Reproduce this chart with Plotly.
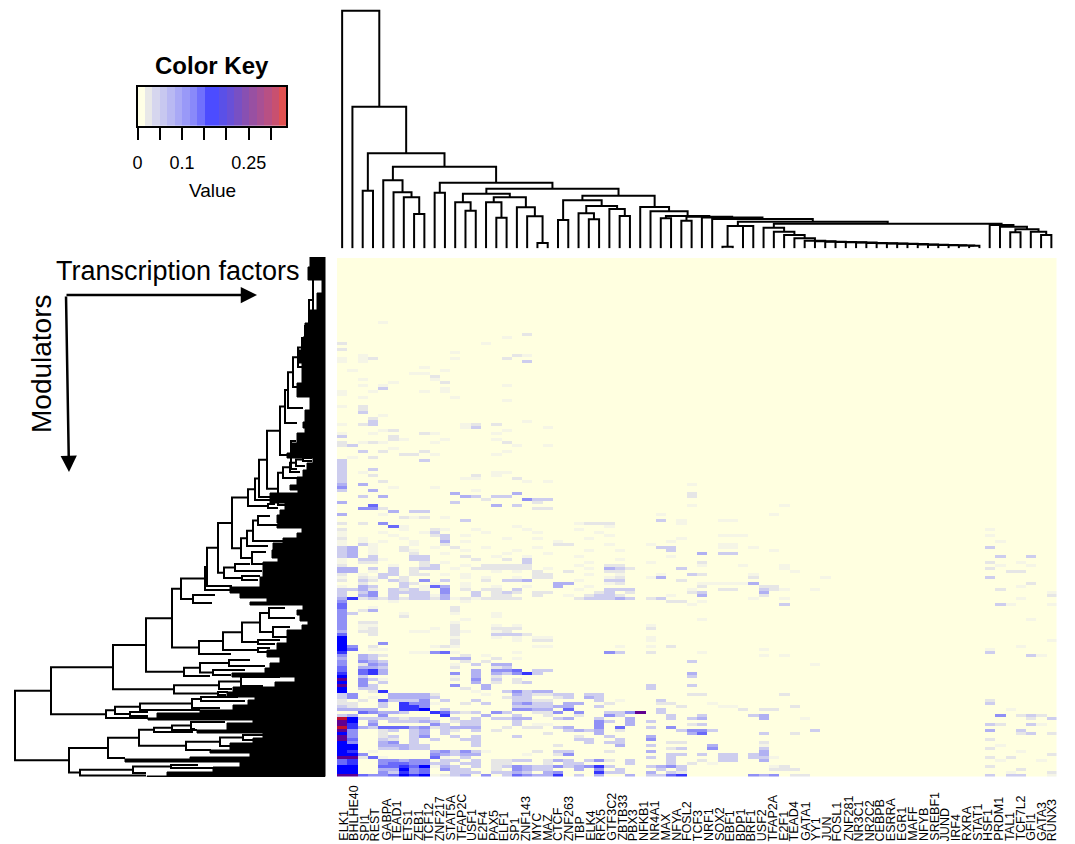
import plotly.graph_objects as go

# ---------- data ----------
factors = ["ELK1","BHLHE40","SPI1","REST","GABPA","TEAD1","ETS1","ZEB1","TCF12","ZNF217","STAT5A","TFAP2C",
           "USF1","E2F4","PAX5","ELF1","SP1","ZNF143","MYC","MAZ","CTCF","ZNF263","TBP","ELK4","RFX5","GTF3C2",
           "ZBTB33","PBX3","NFKB1","NR4A1","MAX","NFYA","FOSL2","TCF3","NRF1","SOX2","EBF1","BDP1","BRF1","USF2",
           "TFAP2A","E2F1","TEAD4","GATA1","YY1","JUN","FOSL1","ZNF281","NR3C1","NR2C2","CEBPB","ESRRA","EGR1",
           "MAFF","NFYB","SREBF1","JUND","IRF4","RXRA","STAT1","HSF1","PRDM1","TAL1","TCF7L2","GFI1","GATA3","RUNX3"]

n_rows = 173
n_cols = 70
level_values = {".":0,"1":.008,"2":.02,"3":.045,"4":.07,"5":.09,"6":.115,"7":.14,"8":.167,"9":.235,"a":.30}

# modulators in the densely filled lower part, rows 90.., first 33 factors; spaces only group the columns
dense_first_row = 90
dense_left = [
"2... ..1.. 21 ..1 ... .1.. .. 1.. ... . ....",
"1... 1...1 3. ... 1.. ..1. .. ..1 ... . ....",
"1... .1... 23 .1. ... .... .. ... 1.. . ....",
"2.1. ..1.. .3 ... ..1 ..1. .. .1. ... . ...1",
"1.1. 1..1. .4 .1. ... .... 1. ... ... . ....",
"1.31 ...1. .2 ... ... .... 22 ... 1.. . 1...",
"34.1 ..2.. 1. 2.. 1.. ..1. .. ... ... . .33.",
"34.1 ..21. .. .1. ... 1... .. .1. .1. . ....",
"34.1 ...2. .1 ... ..1 ...1 .. ... ... . ....",
"34.3 ...33 .. .2. .1. .1.. .. 1.. ... . ..1.",
"1.33 1..33 .. ..2 ..2 .3.. .. ... .1. . ....",
"1.22 ....2 .1 ... ... .3.. .. .1. ... . 1...",
"2... .1..2 3. .1. 222 22.. .. 1.. 22. . ....",
"44.3 .3.23 3. 1.2 222 22.1 .. .1. 432 . ....",
"44.1 .3.2. .. ... .1. 1.2. .2 ... 22. . ....",
"2.1. 33.22 .1 .1. ... ..22 .. .1. .1. . .1..",
"1.21 3.2.. .. .1. 1.. 1.22 .. ... 12. . 1...",
"2.32 .32.5 .3 ... 2.3 34.. .. 1.. 33. . ....",
"..2. ..32. 1. .1. ... .... 44 ... 12. . ....",
"1.43 ..3.1 64 .1. .1. .1.. 4. .1. ... . ....",
"3342 .3231 .5 .2. 22. 3... .. 1.. 333 . ....",
"3.35 .3333 .5 ..3 .23 2.22 .. ..2 3.2 . ....",
"3.45 .3.33 14 ..3 .22 ..2. .1 .23 32. . ..1.",
"4723 23233 24 121 222 2... .. 233 343 . 2...",
"5... .1... .. .1. ... .... .. ... ... . ....",
"6... ..... .. ... ... .... .. ... ... . ....",
"6..1 ..... .. 2.. ... .... .. ... ... . ....",
"5.24 ..... .. 2.. ... .... .. ... ... . ....",
"53.. ..1.. .. 1.. .1. .... .. ... ... . ....",
"5... ..2.. .. ... .1. .... .. ... ... . ....",
"5... ..... .. .1. ... .... .. ... ... . ....",
"5.22 ..... .. 1.. ... .... .. ... ... . ....",
"5.11 ..... .. 2.. .1. 1... .. ... ... . 1...",
"5.12 ..... 1. 2.. .22 2... .. ... ... . 2...",
"4.22 ...11 .. 21. .12 .... .. ... ... . ....",
"6..2 ..... .. 2.. .33 32.. .. ... ... . ....",
"8... ..... .. 1.. .1. 1.11 .. ... ... . 1...",
"8... ..... .. 2.. ... 1.22 .. ... ... . 1...",
"8... 5.... .. 2.. ... .... .. ... ... . ....",
"85.2 ..... 12 1.. ... ..11 .. ... .1. . 1.2.",
"86.1 1.... .. ... ... .... .. ... ... . ....",
"7... ...11 56 1.. ... 1... .. ... 53. . 2...",
"5.43 2.... .. .2. 1.. .... .. ... ... . ....",
"4.43 ..... .. 44. .2. 1... .. ... ... . ....",
"5.54 3.... .. .2. 2.. .... .. ... ... . ....",
"5.25 4.... .. 1.3 .44 .... .. ... ... . ....",
"6.44 3.... .. 2.. .23 .... .. ... ... . ....",
"6.67 4.... .. ..4 .55 6.33 .. ... ... . ....",
"7.67 4.... .. 5.4 .43 573. .. ... ... . ....",
"8.3. ..... .. 1.4 .2. .... .. ... ... . ....",
"9.53 1.... .. 2.5 .3. 2.. . .. ... ... . ....",
"8.5. 3.... .. ..4 .2. 23.. .. ... ... . ....",
"9.53 ..... .. 5.. 4.. .... .. ... ... . 3...",
"8.33 ..... .. .2. 4.. .... .. ... ... . 3...",
"8..2 7.... .. ..1 ..3 5344 .. ... ... . ....",
"35.. .4444 2. ... 1.. 4322 33 .33 ... . ....",
"35.1 .4444 3. ... ..2 33.. 23 .43 ... . ....",
"2.2. 63335 .3 ..3 ... 3322 .. ..3 .1. . ....",
"22.. 3.755 1. .2. 3.. 4533 .4 4.. 2.. . ..2.",
"32.. 3.775 .. ... ... 3333 44 ..3 ... . ...2",
"4444 ..778 .3 ... ... 5544 .6 ... ... . .3..",
"..65 44300 76 323 .53 ..22 5. 5.. 335 9 .3..",
"34.. 5.... .7 ... 4.. 3..2 .. 2.. 53. . ....",
"a833 33233 .. 3.3 .33 44.. 34 ..3 ..4 . ....",
"98.4 .3334 3. 233 ... 3... .. ..5 3.4 . 3...",
"97.5 ..... 53 .33 ... 3.11 .. ..5 ..4 . ....",
"a743 66645 23 444 ..2 .22. 34 ..5 .6. . 3.5.",
"95.. 23.34 .3 2.3 .2. .... .3 434 .2. . ....",
"85.. 2..34 .3 ... ... ...2 .. ..4 ... . ....",
"95.. 23.35 .. 3.3 ... 3... .. 2.. 3.. . 4...",
"96.. 32.3. 3. .33 ... .... .. 33. .3. . 5...",
"85.. 45.3. .. ..3 ... .... .. .3. 33. . ...2",
"88.. 44433 .. ..3 ... .... 2. ... .4. . 3...",
"88.. 33433 .. ... ... .... .. ... ... . ..2.",
"87.1 ..... 45 353 1.. ..2. 33 ... 2.. . 4...",
"885. ..... 54 344 ... .1.. 25 ... ... . ....",
"9926 1.... 61 .3. ... .... .. ... ... . 3.3.",
"67.. 55455 .3 3.3 .22 33.2 43 .35 2.3 . ..3.",
"67.. 56655 33 .33 .22 ...2 .3 3.. ..3 . ..3.",
"88.. 66768 14 3.3 .23 5433 53 457 3.. . 3...",
"88.. 44856 .5 33. .2. 5433 .. 4.5 .3. . .3.3",
"88.. 53756 .. 333 .33 43.4 5. ..7 33. . 4.3.",
"9965 56878 12 34. 5.3 6544 7. 3.4 ..4 . 335.",
]

# sparse (row, factor, level) cells everywhere else
faint_cells = [
(21,4,1),(25,18,2),(26,16,1),(28,14,1),(28,0,2),(30,0,2),(31,11,1),(32,2,1),(32,17,2),(32,18,1),(33,0,1),(33,16,2),
(33,3,2),(33,2,1),(33,11,1),(34,18,3),(34,0,1),(34,2,1),(36,8,1),(37,1,1),(37,10,1),(38,7,1),(38,8,1),(39,9,2),(40,9,1),
(40,2,1),(41,10,2),(42,2,1),(42,4,1),(41,5,1),(43,4,3),(43,10,1),(42,16,1),(44,0,1),(44,3,1),(44,10,1),(45,0,1),(44,8,1),
(46,11,1),(46,2,1),(47,16,1),(49,0,1),(49,2,2),(50,2,2),(51,2,3),(52,4,1),(53,3,2),(54,3,3),(55,2,2),(55,0,1),(55,3,3),
(55,12,1),(55,13,2),(55,15,2),(56,13,3),(56,12,1),(54,18,1),(57,4,1),(57,5,2),(56,20,1),(57,16,1),(58,8,2),(58,9,1),
(58,0,1),(59,0,3),(59,5,2),(58,3,1),(58,15,1),(60,5,2),(60,6,1),(60,10,1),(60,15,1),(61,0,2),(62,0,2),(61,3,2),(61,2,1),
(61,16,2),(61,4,1),(61,9,1),(62,1,3),(62,17,1),(62,20,1),(64,2,3),(64,8,2),(64,4,2),(63,5,1),(65,7,2),(65,6,2),(66,1,1),
(65,15,1),(64,16,1),(65,9,1),(66,3,2),(67,8,3),(67,0,3),(68,0,3),(69,0,3),(70,0,3),(71,0,3),(72,0,3),(73,0,3),(74,0,3),
(75,0,4),(76,0,5),(77,0,3),(70,3,3),(72,3,2),(71,2,1),(71,15,1),(72,15,1),(71,16,1),(72,13,2),(73,12,1),(74,4,2),
(75,2,4),(73,13,1),(73,17,2),(74,18,1),(74,20,1),(76,5,1),(76,9,1),(77,3,4),(77,13,1),(78,11,4),(79,4,4),(79,2,3),
(78,17,4),(79,12,4),(79,13,3),(80,18,4),(80,19,3),(80,20,3),(79,15,3),(79,16,3),(80,18,5),(81,19,2),(81,11,3),(80,14,2),
(82,3,6),(83,3,5),(83,2,5),(83,19,2),(83,20,2),(83,4,2),(81,0,4),(82,17,3),(82,15,4),(84,5,4),(84,7,3),(84,8,3),(85,0,4),
(85,4,1),(86,6,2),(86,7,1),(86,8,2),(86,10,1),(87,12,3),(88,4,5),(88,2,2),(88,0,2),(88,23,1),(88,24,2),(88,25,2),(88,26,2),
(89,5,6),(89,6,1),(89,17,1),(89,26,1),(75,34,1),(78,34,2),(79,34,2),(82,34,1),(82,43,1),(85,42,1),(85,31,1),(87,31,3),
(87,33,1),(87,37,1),(87,38,1),(88,33,1),(90,63,1),(92,63,1),(92,37,1),(92,38,1),(92,39,1),(94,32,1),(94,64,1),(95,37,1),
(95,38,1),(96,37,1),(96,38,1),(96,63,3),(96,40,1),(97,32,3),(97,42,1),(98,35,4),(98,37,3),(98,38,3),(99,64,3),(99,67,3),
(99,32,1),(101,35,2),(101,63,2),(101,66,1),(102,35,1),(102,39,1),(102,43,1),(102,64,1),(102,67,1),(103,33,3),(103,43,1),
(104,44,1),(103,63,2),(104,65,2),(104,66,2),(105,34,3),(105,35,2),(105,40,1),(106,40,2),(106,31,4),(107,33,2),(106,47,1),
(106,63,3),(108,40,4),(108,35,1),(108,36,1),(108,37,1),(108,38,1),(108,39,1),(109,35,2),(109,41,2),(109,42,2),(109,66,1),
(108,67,2),(110,37,2),(110,38,2),(110,41,3),(110,42,2),(110,43,1),(110,46,1),(110,64,2),(110,34,1),(111,35,3),(111,41,4),
(111,34,2),(111,69,1),(112,35,4),(112,41,2),(112,69,2),(113,31,3),(113,43,1),(113,40,1),(113,66,1),(114,32,2),(114,33,2),
(114,35,1),(115,34,1),(115,43,3),(115,64,3),(115,69,1),(115,65,1),(120,35,1),(120,67,1),(127,69,1),(129,32,2),(129,66,1),
(130,63,1),(131,35,1),(131,63,3),(130,41,1),(132,41,1),(132,67,3),(132,68,1),(132,43,1),(134,34,3),(135,46,1),(138,34,4),
(139,34,3),(142,34,3),(145,34,2),(145,35,2),(145,43,2),(147,31,3),(147,63,2),(148,31,2),(148,63,3),(148,36,1),(149,37,1),
(149,38,1),(149,44,2),(150,39,2),(150,41,2),(150,42,2),(150,65,1),(152,64,5),(152,32,3),(152,40,3),(152,41,4),(152,35,3),
(152,67,3),(152,66,2),(152,68,2),(153,34,3),(153,35,4),(153,32,3),(153,41,4),(153,45,1),(153,67,2),(153,69,3),(155,35,3),
(155,34,2),(155,63,3),(155,64,2),(155,67,3),(155,68,1),(157,34,5),(157,35,5),(157,36,3),(157,33,3),(157,63,4),(157,66,3),
(157,46,3),(158,34,4),(158,35,6),(158,44,2),(158,41,3),(158,66,2),(158,67,3),(158,69,2),(160,63,2),(161,32,2),(161,41,2),
(162,36,4),(162,41,1),(162,64,1),(163,36,5),(163,41,3),(163,32,2),(163,33,3),(163,63,2),(164,41,4),(164,66,1),(165,37,3),
(165,38,3),(165,40,3),(165,41,4),(165,32,3),(165,33,3),(165,35,3),(165,69,2),(166,37,3),(166,38,3),(166,40,3),(166,41,3),
(166,42,1),(166,63,2),(166,65,2),(167,37,3),(167,38,3),(167,41,4),(167,35,2),(167,64,1),(167,68,1),(168,36,1),(168,34,2),
(169,31,4),(169,32,5),(169,33,3),(169,42,1),(169,43,2),(169,63,2),(170,42,2),(170,43,2),(170,44,2),(170,66,2),(171,32,3),
(171,33,2),(171,65,1),(171,69,2),(172,31,3),(172,32,6),(172,33,7),(172,40,5),(172,41,4),(172,42,5),(172,63,3),(172,65,3),
(172,66,3),(172,44,2),(172,45,2),(172,69,1),
]

# factor dendrogram: (depth, left, right), leaves are factor columns, depth is measured down from the top
col_leaf_depth = 248.3
col_tree = (10.7, 0, (106.7, 1, (153.3, (190.7, 2, 3), (166.7,
    (180.3, 4, (192.3, 5, (197.3, 6, (214, 7, 8)))),
    (182.7, (192.7, 9, 10), (188.7,
        (193.7, (202.3, 11, (210.7, 12, 13)),
                (197.3, (202.3, 14, (217.7, 15, 16)), (207.3, 17, (216.3, 18, (243, 19, 20))))),
        (195.7,
            (200.3, (220, 21, 22),
                    (206, (213.3, 23, (219.3, 24, 25)), (209, 26, (216, 27, 28)))),
            (207, 29, (211.3, 30, (216, (218.3, 31, 32), (216.7, (220.7, 33, 34), (217.5, 35, (219, 36,
                (221.7, (226, (246.7, 37, 38), (226, 39, 40)),
                 (223.7,
                    (227.7, 41, (231.7, 42, (235, 43, (238.3, 44, (240.7, 45, (241.3, 46, (241.7, 47, (242, 48,
                     (242.3, 49, (242.6, 50, (242.9, 51, (243.2, 52, (243.5, 53, (243.8, 54, (244.1, 55, (244.4, 56,
                     (244.7, 57, (245, 58, (245.2, 59, (245.4, 60, (245.7, 61, 62))))))))))))))))))))),
                    (225, 63, (226.7, 64, (229.3, (232.3, 65, 66), (231.7, 67, (235, 68, 69)))))
                 )
                )
            )))))))
        )
    )
))))

# modulator dendrogram: (depth, upper, lower) nodes; a clade is (tip depth, position)
row_tree = (15,
 (51,
  (113,
   (146,
    (172,
     (181,
      (205,
       (207,
        (218,
         (232,
          (248,
           (255,
            (259,
             (267,
              (280,
               (285,
                (288,
                 (293,
                  (298,
                   (302,
                    (305,
                     (309, (313, (318, 262), (316, 338)), (312, 352)),
                     (310, 350)),
                    (306, 357)),
                   (303, 367)),
                  (300, 387)),
                 (303, 408)),
                (297, 423)),
               (291, (296, 441), (297, 469))),
              (278, (283, (290, (296, (303, (312, 458), (312, 461)), (305, 466)), (300, 472)), (297, 478)), (292, 505))),
             (270, 497)),
            (270, 500)),
           (268, (275, 504), (278, 508))),
          (241,
           (247,
            (253, (258, (270, 516), (300, 525)), (293, 541)),
            (268, 546)),
           (252, (266, 552), (268, 564)))),
         (224, (235, (250, 564), (262, 571)), (242, (260, 576), (258, 580)))),
        (232, 586)),
       (250, 590)),
      (193, (215, 595), (212, 603))),
     (199,
      (223,
       (242,
        (260, (269, (285, 608), (295, 618)), (273, (290, 627), (300, 637))),
        (258, (280, 640), (275, 644))),
       (258, (270, 648), (268, 652))),
      (231, 654))),
    (184,
     (200, (229, (250, 660), (265, 666)), (213, (245, 670), (231, 675))),
     (210, 676))),
   (174,
    (219, (241, (280, 677), (263, 686)), (232, 689)),
    (218, (228, 692), (226, 695)))),
  (106,
   (115,
    (140, (192, (201, (238, 697), (245, 701)), (220, 708)), (200, 710)),
    (130, (148, 712), (148, 716))),
   (148, 718))),
 (69,
  (108,
   (139,
    (154, (172, (191, (225, 722), (195, 729)), (197, 730)), (193, 732)),
    (186, (220, (243, (264, 735), (255, 740)), (230, 746)), (211, 750))),
   (125, 758)),
  (80,
   (133, (171, (198, 765), (213, 768)), (146, 773)),
   (146, 775.5))))

# left edge of the solid block of unresolved modulator branches: position, depth
mass_pos = [257,267,280,293,310,323,337,350,363,383,397,410,422,428,433,443,453,458,463,470,477,485,490,493,503,510,515,523,
            526,528,533,538,543,550,558,562,570,577,587,593,598,602,605,610,615,621,625,630,637,643,650,657,663,668,673,
            677,682,687,692,697,700,705,710,713,718,720,723,730,733,738,743,750,753,757,759,762,767,772,776]
mass_depth = [310,308,322,317,310,305,303,298,302,297,310,305,303,305,297,292,287,313,307,303,297,290,298,270,285,280,277,278,
              277,302,297,283,273,272,278,263,263,260,230,240,267,250,303,297,300,308,302,287,287,277,267,280,270,265,232,
              295,275,233,227,255,248,233,200,157,148,253,227,197,263,253,230,210,250,190,125,240,213,167,147]
mass_edge_depth = 325

key_colors = ["#FFFFE6","#E8E8E8","#D6D6EE","#C8C8F0","#B9B9F3","#A9A9F6","#9999F8","#8989FA","#7070FD","#4C4CFF",
              "#4C4CFF","#5A50E8","#6850D8","#7850C4","#8850B2","#9850A2","#A85094","#B85084","#C85070","#E05050"]
key_max = 0.334
key_tick_values = [0, .05, .1, .15, .2, .25, .3]
key_tick_text = ["0", "", "0.1", "", "", "0.25", ""]

heat_scale = [(0, "#FFFFE0"), (.008, "#F5F5E6"), (.02, "#E6E6E6"), (.045, "#CDCDEE"), (.07, "#B0B0F2"), (.09, "#9090F5"),
              (.115, "#6A6AF9"), (.14, "#3535FD"), (.167, "#0000FF"), (.235, "#600090"), (.30, "#C01030"), (.334, "#D01020")]

# ---------- assemble ----------
W, H = 1075, 844
level_values["0"] = 0
grid = [[0.0] * n_cols for _ in range(n_rows)]
for i, s in enumerate(dense_left):
    for j, ch in enumerate(s.replace(" ", "")):
        grid[dense_first_row + i][j] = level_values[ch]
for r, c, l in faint_cells:
    grid[r][c] = max(grid[r][c], level_values[str(l)])

def xdom(a, b): return [a / W, b / W]
def ydom(top, bot): return [1 - bot / H, 1 - top / H]

fig = go.Figure()
fig.add_trace(go.Heatmap(z=grid, x=list(range(n_cols)), y=list(range(n_rows)), zmin=0, zmax=.334, showscale=False,
                         colorscale=[[v / .334, c] for v, c in heat_scale], hoverinfo="skip", xaxis="x", yaxis="y"))

# column tree
cx, cy = [], []
def walk_col(node):
    if isinstance(node, int):
        return node, col_leaf_depth
    d, a, b = node
    xa, da = walk_col(a)
    xb, db = walk_col(b)
    cx.extend([xa, xa, xb, xb, None])
    cy.extend([da, d, d, db, None])
    return (xa + xb) / 2, d
walk_col(col_tree)
fig.add_trace(go.Scatter(x=cx, y=cy, mode="lines", line=dict(color="black", width=2), hoverinfo="skip",
                         xaxis="x2", yaxis="y2"))

# row tree with solid block
fig.add_trace(go.Scatter(x=mass_depth + [mass_edge_depth, mass_edge_depth], y=mass_pos + [776.5, 257],
                         mode="lines", fill="toself", fillcolor="black", line=dict(color="black", width=1, shape="vh"),
                         hoverinfo="skip", xaxis="x3", yaxis="y3"))
rx, ry = [], []
def walk_row(node):
    if len(node) == 2:
        return node[1], node[0]
    d, a, b = node
    pa, da = walk_row(a)
    pb, db = walk_row(b)
    rx.extend([da, d, d, db, None])
    ry.extend([pa, pa, pb, pb, None])
    return (pa + pb) / 2, d
walk_row(row_tree)
fig.add_trace(go.Scatter(x=rx, y=ry, mode="lines", line=dict(color="black", width=2), hoverinfo="skip",
                         xaxis="x3", yaxis="y3"))

# colour key
step = key_max / len(key_colors)
fig.add_trace(go.Heatmap(z=[list(range(len(key_colors)))], x=[step * (i + .5) for i in range(len(key_colors))], y=[0],
                         zmin=0, zmax=len(key_colors) - 1, showscale=False, hoverinfo="skip",
                         colorscale=[[i / (len(key_colors) - 1), c] for i, c in enumerate(key_colors)],
                         xaxis="x4", yaxis="y4"))

hidden = dict(visible=False, showgrid=False, zeroline=False)
FONT = "Liberation Sans"
annotations = [
    dict(text="Transcription factors", x=54 / W, y=1 - 271 / H, xref="paper", yref="paper", xanchor="left", yanchor="middle",
         showarrow=False, font=dict(family=FONT, size=27, color="black")),
    dict(text="Modulators", x=41 / W, y=1 - 364 / H, xref="paper", yref="paper", xanchor="center", yanchor="middle",
         textangle=-90, showarrow=False, font=dict(family=FONT, size=28, color="black")),
    dict(text="<b>Color Key</b>", x=212 / W, y=1 - 65 / H, xref="paper", yref="paper", xanchor="center", yanchor="middle",
         showarrow=False, font=dict(family=FONT, size=24, color="black")),
    dict(text="Value", x=212 / W, y=1 - 190 / H, xref="paper", yref="paper", xanchor="center", yanchor="middle",
         showarrow=False, font=dict(family=FONT, size=19, color="black")),
    dict(text="", x=257 / W, y=1 - 295 / H, xref="paper", yref="paper", ax=-192, ay=0, showarrow=True,
         arrowhead=2, arrowsize=1.3, arrowwidth=2.5, arrowcolor="black"),
    dict(text="", x=69 / W, y=1 - 472 / H, xref="paper", yref="paper", ax=-3, ay=-177, showarrow=True,
         arrowhead=2, arrowsize=1.3, arrowwidth=2.5, arrowcolor="black"),
]
last = len(factors) - 1
for i, name in enumerate(factors):
    annotations.append(dict(text=name, x=i * (n_cols - 1) / last, y=1 - 842 / H, xref="x", yref="paper", yanchor="bottom",
                            xanchor="center", textangle=-90, showarrow=False, borderpad=0, xshift=1,
                            font=dict(family=FONT, size=12.5, color="black")))

fig.update_layout(
    width=W, height=H, margin=dict(l=0, r=0, t=0, b=0, autoexpand=False), paper_bgcolor="white", plot_bgcolor="white",
    showlegend=False, annotations=annotations, font=dict(family=FONT),
    xaxis=dict(domain=xdom(337, 1056.5), range=[-.5, n_cols - .5], **hidden),
    yaxis=dict(domain=ydom(258, 776.5), range=[n_rows - .5, -.5], **hidden),
    xaxis2=dict(domain=xdom(337, 1056.5), range=[-.5, n_cols - .5], anchor="y2", **hidden),
    yaxis2=dict(domain=ydom(0, 248.5), range=[248.5, 0], anchor="x2", **hidden),
    xaxis3=dict(domain=xdom(0, 326), range=[0, 326], anchor="y3", **hidden),
    yaxis3=dict(domain=ydom(257, 777), range=[777, 257], anchor="x3", **hidden),
    xaxis4=dict(domain=xdom(137.5, 286), range=[0, key_max], anchor="y4", showgrid=False, zeroline=False, showline=True,
                mirror=True, linecolor="black", linewidth=1.5, ticks="outside", ticklen=12, tickwidth=1.5, tickcolor="black",
                tickmode="array", tickvals=key_tick_values, ticktext=key_tick_text, tickangle=0, ticklabelstandoff=8,
                tickfont=dict(family=FONT, size=18, color="black")),
    yaxis4=dict(domain=ydom(86.7, 126), anchor="x4", showgrid=False, zeroline=False, showline=True, mirror=True,
                linecolor="black", linewidth=1.5, showticklabels=False, ticks=""),
)
fig.write_html("out.html", config=dict(displayModeBar=False),
               post_script="document.body.style.margin='0';document.body.style.overflow='hidden';")
